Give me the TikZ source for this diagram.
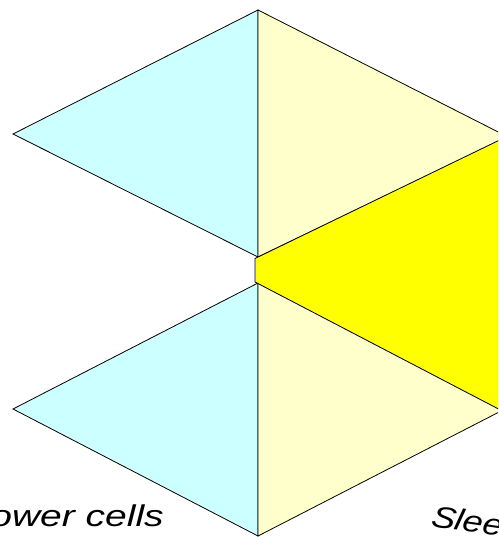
\documentclass[tikz,border=0pt]{standalone}
\usepackage{fontspec}
\setmainfont{Liberation Sans}
\definecolor{paleCyan}{HTML}{CCFFFF}
\definecolor{paleYellow}{HTML}{FFFFCC}
\definecolor{brightYellow}{HTML}{FFFF00}
\begin{document}
\begin{tikzpicture}[x=1pt,y=-1pt,
  facet/.style={draw=black,line width=0.8pt,line join=miter},
  lbl/.style={font=\fontsize{30}{34}\selectfont\itshape,inner sep=0pt}]
\useasboundingbox (0,0) rectangle (498,537);
\clip (0,0) rectangle (498,537);
\fill[white] (0,0) rectangle (498,537);
% upper diamond
\filldraw[facet,fill=paleCyan] (258,10) -- (13,134) -- (258,257) -- cycle;
\filldraw[facet,fill=paleYellow] (258,10) -- (508,137) -- (258,257) -- cycle;
% lower diamond
\filldraw[facet,fill=paleCyan] (258,283) -- (13,409) -- (258,536) -- cycle;
\filldraw[facet,fill=paleYellow] (258,283) -- (503,410) -- (258,536) -- cycle;
% bright yellow wedge
\filldraw[facet,fill=brightYellow] (255,258.5) -- (510,135) -- (510,415) -- (255,282) -- cycle;
% labels
\node[lbl,anchor=base east,xscale=1.3] (lower) at (164,526) {ower cells};
\node[lbl,anchor=base west,xscale=1.2,rotate=-10] (sleep) at (430,526) {Slee};
\end{tikzpicture}
\end{document}
